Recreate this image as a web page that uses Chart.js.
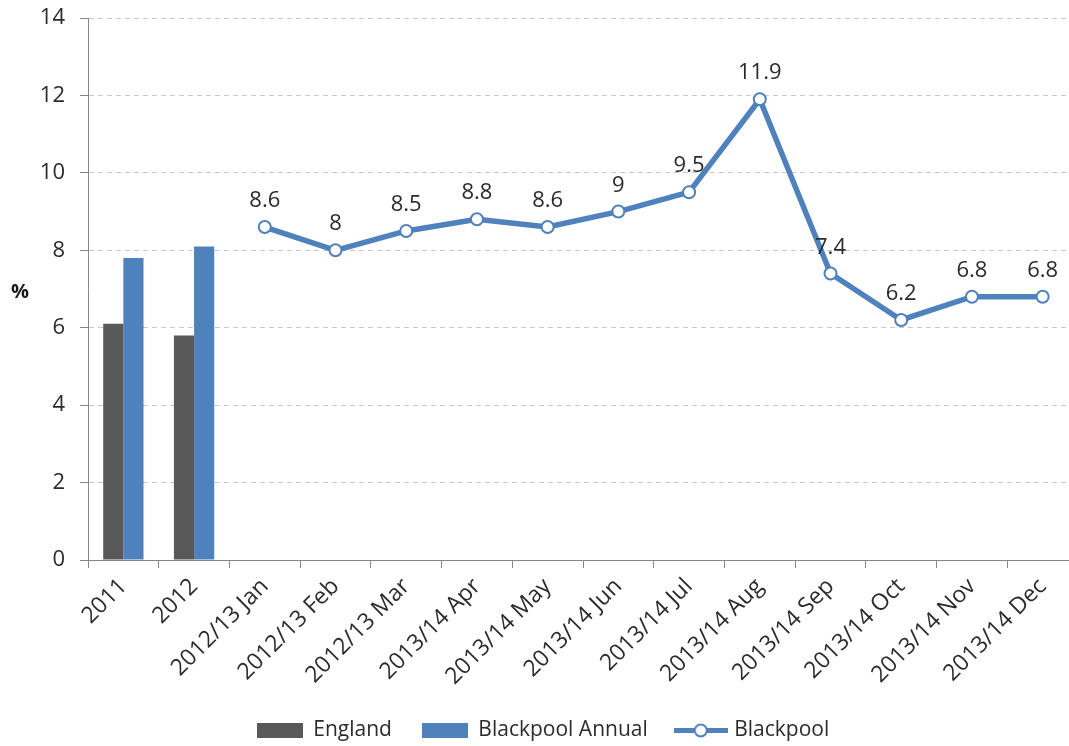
<!DOCTYPE html>
<html>
<head>
<meta charset="utf-8">
<script src="https://cdn.jsdelivr.net/npm/chart.js@4.4.1/dist/chart.umd.min.js"></script>
<style>
  html, body { margin: 0; padding: 0; background: #fff; overflow: hidden; }
  #wrap { width: 1069px; height: 746px; overflow: hidden; }
</style>
</head>
<body>
<div id="wrap"><canvas id="chart" width="1086" height="746"></canvas></div>
<script>
// categories on the x axis
const categories = ['2011', '2012', '2012/13 Jan', '2012/13 Feb', '2012/13 Mar', '2013/14 Apr', '2013/14 May',
  '2013/14 Jun', '2013/14 Jul', '2013/14 Aug', '2013/14 Sep', '2013/14 Oct', '2013/14 Nov', '2013/14 Dec'];
// series
const england = [6.1, 5.8, null, null, null, null, null, null, null, null, null, null, null, null];
const blackpoolAnnual = [7.8, 8.1, null, null, null, null, null, null, null, null, null, null, null, null];
const blackpool = [null, null, 8.6, 8, 8.5, 8.8, 8.6, 9, 9.5, 11.9, 7.4, 6.2, 6.8, 6.8];
// y axis
const yMin = 0, yMax = 14, yStep = 2;

const greyCol = '#595959';
const blueCol = '#4F81BD';
const textCol = '#2b2b2b';
const fontFam = "'Open Sans', 'Noto Sans', sans-serif";

// legend icons
const mkRect = (col) => {
  const c = document.createElement('canvas');
  c.width = 46; c.height = 15;
  const g = c.getContext('2d');
  g.fillStyle = col; g.fillRect(0, 0, 46, 15);
  return c;
};
const mkLine = () => {
  const c = document.createElement('canvas');
  c.width = 54; c.height = 15;
  const g = c.getContext('2d');
  g.strokeStyle = blueCol; g.lineWidth = 5;
  g.beginPath(); g.moveTo(0, 7.5); g.lineTo(54, 7.5); g.stroke();
  g.beginPath(); g.arc(27, 7.5, 6, 0, Math.PI * 2);
  g.fillStyle = '#fff'; g.fill();
  g.lineWidth = 2; g.stroke();
  return c;
};
const legendIcons = [mkRect(greyCol), mkRect(blueCol), mkLine()];

// value labels over the line points + the "%" axis title
const labelsPlugin = {
  id: 'labelsPlugin',
  afterDatasetsDraw(chart) {
    const ctx = chart.ctx;
    const meta = chart.getDatasetMeta(2);
    ctx.save();
    ctx.font = '22px ' + fontFam;
    ctx.fillStyle = textCol;
    ctx.textAlign = 'center';
    ctx.textBaseline = 'alphabetic';
    meta.data.forEach((pt, i) => {
      const v = blackpool[i];
      if (v === null) return;
      ctx.fillText(String(v), pt.x, pt.y - 20);
    });
    ctx.font = 'bold 20px ' + fontFam;
    ctx.fillStyle = '#1a1a1a';
    ctx.textAlign = 'center';
    ctx.textBaseline = 'middle';
    ctx.fillText('%', 20, 292);
    ctx.restore();
  }
};

const ctx = document.getElementById('chart').getContext('2d');
const chart = new Chart(ctx, {
  type: 'bar',
  data: {
    labels: categories,
    datasets: [
      { label: 'England', data: england, backgroundColor: greyCol, categoryPercentage: 0.57, barPercentage: 1.0 },
      { label: 'Blackpool Annual', data: blackpoolAnnual, backgroundColor: blueCol, categoryPercentage: 0.57, barPercentage: 1.0 },
      {
        type: 'line', label: 'Blackpool', data: blackpool,
        borderColor: blueCol, borderWidth: 5.5, tension: 0,
        pointRadius: 6, pointBorderWidth: 2, pointBackgroundColor: '#fff', pointBorderColor: blueCol,
        spanGaps: false
      }
    ]
  },
  options: {
    responsive: false,
    animation: false,
    layout: { padding: { top: 18, left: 0, right: 0, bottom: -5 } },
    plugins: {
      tooltip: { enabled: false },
      legend: {
        position: 'bottom',
        labels: {
          usePointStyle: true,
          pointStyleWidth: 46,
          boxHeight: 15,
          padding: 30,
          color: textCol,
          font: { size: 21, family: fontFam },
          generateLabels(ch) {
            const items = Chart.defaults.plugins.legend.labels.generateLabels(ch);
            items.forEach(it => { it.pointStyle = legendIcons[it.datasetIndex]; });
            return items;
          }
        }
      }
    },
    scales: {
      x: {
        grid: { display: true, drawOnChartArea: false, drawTicks: true, tickLength: 8, color: '#868686', offset: true },
        border: { display: true, color: '#868686', width: 1 },
        ticks: { color: textCol, font: { size: 23, family: fontFam }, minRotation: 45, maxRotation: 45, padding: 5 },
        afterFit(s) { s.height = 130; }
      },
      y: {
        min: yMin, max: yMax,
        grid: { color: '#c8c8c8', tickColor: '#868686', tickLength: 8, lineWidth: 1 },
        border: { display: true, color: '#868686', dash: [5, 4] },
        ticks: { stepSize: yStep, color: textCol, font: { size: 22, family: fontFam }, padding: 15 },
        afterFit(s) { s.width = 88; s.paddingTop = 0; s.paddingBottom = 0; }
      }
    }
  },
  plugins: [labelsPlugin]
});
</script>
</body>
</html>
